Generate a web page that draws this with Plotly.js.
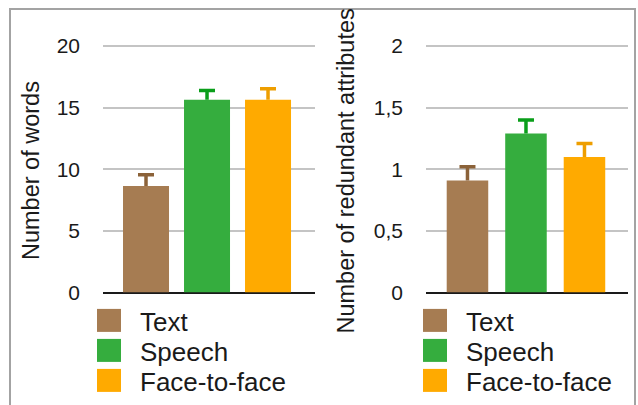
<!DOCTYPE html>
<html>
<head>
<meta charset="utf-8">
<script src="https://cdn.plot.ly/plotly-3.0.1.min.js"></script>
<style>html,body{margin:0;padding:0;background:#fff;}#chart{width:638px;height:405px;}</style>
</head>
<body>
<div id="chart"></div>
<script>
// ---- data ----
var categories = ["Text", "Speech", "Face-to-face"];
var wordsValues = [8.65, 15.65, 15.65];
var wordsErrors = [0.9, 0.75, 0.88];
var redundantValues = [0.91, 1.29, 1.10];
var redundantErrors = [0.11, 0.11, 0.11];
var wordsTicks = [0, 5, 10, 15, 20];
var redundantTicks = [0, 0.5, 1, 1.5, 2];
var leftTitle = "Number of words";
var rightTitle = "Number of redundant attributes";

// ---- styling ----
var barColors = ["#A67C52", "#35AD3E", "#FFAA00"];
var errColors = ["#8B6239", "#0A9E1A", "#EE9E00"];
var FONT = "Liberation Sans, Arial, Helvetica, sans-serif";
var TEXT = "#1a1a1a";
var W = 638, H = 405;
function px(x){ return x / W; }
function py(y){ return 1 - y / H; }

var traces = [];
categories.forEach(function(c, i){
  traces.push({
    type: "bar", name: c, x: [c], y: [wordsValues[i]],
    xaxis: "x", yaxis: "y", legend: "legend",
    width: 0.754,
    marker: {color: barColors[i], line: {width: 0}},
    error_y: {type: "data", symmetric: false, array: [wordsErrors[i]], arrayminus: [0],
              color: errColors[i], thickness: 3.5, width: 8},
    hoverinfo: "skip"
  });
});
categories.forEach(function(c, i){
  traces.push({
    type: "bar", name: c, x: [c], y: [redundantValues[i]],
    xaxis: "x2", yaxis: "y2", legend: "legend2",
    width: 0.71,
    marker: {color: barColors[i], line: {width: 0}},
    error_y: {type: "data", symmetric: false, array: [redundantErrors[i]], arrayminus: [0],
              color: errColors[i], thickness: 3.5, width: 8},
    hoverinfo: "skip"
  });
});

var yDomain = [py(292.5), py(33.8)];
function yax(range, ticks, anchor){
  return {
    anchor: anchor,
    domain: yDomain, range: range, tickvals: ticks, ticks: "",
    ticklabelstandoff: 22,
    tickfont: {family: FONT, size: 21, color: TEXT},
    showgrid: true, gridcolor: "#c4c4c4", gridwidth: 2,
    zeroline: true, zerolinecolor: "#1a1a1a", zerolinewidth: 2,
    showline: false, fixedrange: true
  };
}
function xax(domain, range, anchor){
  return {
    anchor: anchor,
    domain: domain, type: "category", categoryarray: categories, range: range,
    showticklabels: false, showgrid: false, zeroline: false, showline: false,
    ticks: "", fixedrange: true
  };
}
var legendBase = {
  font: {family: FONT, size: 26, color: TEXT},
  bgcolor: "rgba(0,0,0,0)", borderwidth: 0,
  xanchor: "left", yanchor: "top", itemwidth: 52,
  traceorder: "normal", itemclick: false, itemdoubleclick: false
};

var layout = {
  width: W, height: H,
  margin: {l: 0, r: 0, t: 0, b: 0, pad: 0, autoexpand: false},
  paper_bgcolor: "#ffffff", plot_bgcolor: "rgba(0,0,0,0)",
  separators: ", ",
  barmode: "overlay",
  showlegend: true,
  font: {family: FONT, color: TEXT},
  xaxis: xax([px(103), px(315)], [-0.705, 2.77], "y"),
  yaxis: yax([0, 21], wordsTicks, "x"),
  xaxis2: xax([px(426), px(628)], [-0.709, 2.744], "y2"),
  yaxis2: yax([0, 2.1], redundantTicks, "x2"),
  legend: Object.assign({}, legendBase, {x: px(78), y: py(297)}),
  legend2: Object.assign({}, legendBase, {x: px(404), y: py(297)}),
  annotations: [
    {text: leftTitle, xref: "paper", yref: "paper", x: px(31), y: py(171),
     xanchor: "center", yanchor: "middle", textangle: -90, showarrow: false,
     font: {family: FONT, size: 23.5, color: TEXT}},
    {text: rightTitle, xref: "paper", yref: "paper", x: px(345.5), y: py(171),
     xanchor: "center", yanchor: "middle", textangle: -90, showarrow: false,
     font: {family: FONT, size: 23.5, color: TEXT}}
  ],
  shapes: [
    {type: "rect", xref: "paper", yref: "paper", x0: px(10), x1: px(635), y0: -0.05, y1: py(9),
     line: {color: "#a3a3a3", width: 2}, fillcolor: "rgba(0,0,0,0)", layer: "above"}
  ]
};

var ROW = 30;
function fixLegends(){
  var groups = gd.querySelectorAll(".infolayer > g");
  groups.forEach(function(lg){
    var cls = (lg.getAttribute("class") || "");
    if(!/^legend\d*$/.test(cls.trim())) return;
    var items = lg.querySelectorAll("g.traces");
    var y0 = null;
    items.forEach(function(it, i){
      var t = it.getAttribute("transform") || "";
      var m = /translate\(\s*([-\d.e]+)[ ,]+([-\d.e]+)\s*\)/.exec(t);
      if(!m) return;
      if(y0 === null) y0 = parseFloat(m[2]);
      it.setAttribute("transform", "translate(" + m[1] + "," + (y0 + i * ROW) + ")");
    });
    lg.querySelectorAll("g.legendpoints path").forEach(function(p){
      p.setAttribute("d", "M12,11.5H-12V-11.5H12Z");
    });
  });
  // show only the upper half of each error bar (no cross-bar at the bar top)
  gd.querySelectorAll("g.errorbar path.yerror").forEach(function(p){
    var d = p.getAttribute("d") || "";
    p.setAttribute("d", d.replace(/m-?[\d.e]+,0h[\d.e]+\s*$/i, ""));
  });
}

var gd = document.getElementById("chart");
Plotly.newPlot(gd, traces, layout, {displayModeBar: false, staticPlot: true}).then(function(){
  fixLegends();
  gd.on && gd.on("plotly_afterplot", fixLegends);
});
</script>
</body>
</html>
